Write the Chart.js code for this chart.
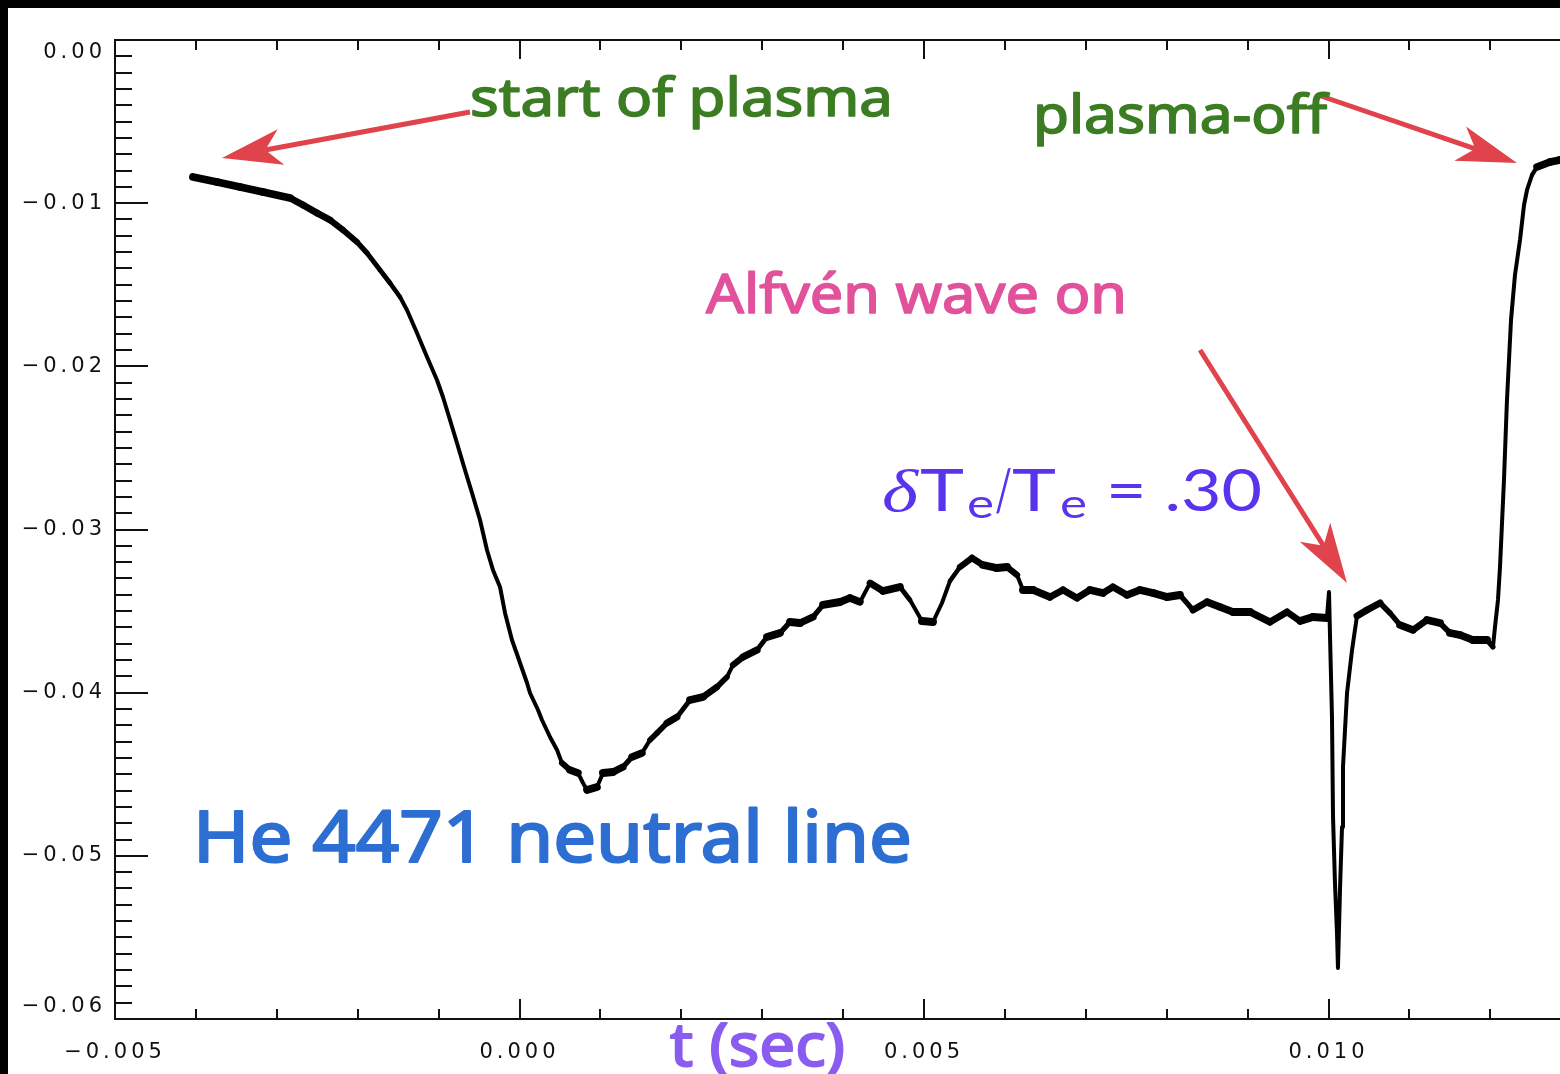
<!DOCTYPE html>
<html>
<head>
<meta charset="utf-8">
<script src="https://cdn.jsdelivr.net/npm/chart.js@4.4.0/dist/chart.umd.min.js"></script>
<style>
html, body { margin: 0; padding: 0; background: #000; overflow: hidden; width: 1560px; height: 1074px; }
#wrap { position: absolute; left: 8px; top: 8px; width: 1552px; height: 1066px; overflow: hidden; background: #fff; }
canvas { position: absolute; left: -8px; top: -8px; }
</style>
</head>
<body>
<div id="wrap"><canvas id="c" width="1800" height="1074"></canvas></div>
<script>
// He 4471 neutral line signal (t in s)
const times = [
  -0.004036, -0.003739, -0.003455, -0.003171, -0.002837, -0.002676, -0.002503, -0.002342, -0.002182, -0.002009,
  -0.001885, -0.001724, -0.001601, -0.001477, -0.001391, -0.001267, -0.001143, -0.001020, -0.000946, -0.000859,
  -0.000773, -0.000674, -0.000587, -0.000488, -0.000402, -0.000328, -0.000241, -0.000179, -0.000093, -0.000019,
  0.000093, 0.000130, 0.000229, 0.000278, 0.000377, 0.000464, 0.000525, 0.000624, 0.000723, 0.000785,
  0.000834, 0.000958, 0.001032, 0.001156, 0.001279, 0.001391, 0.001514, 0.001613, 0.001700, 0.001823,
  0.001947, 0.002108, 0.002268, 0.002441, 0.002565, 0.002639, 0.002763, 0.002936, 0.003059, 0.003220,
  0.003344, 0.003467, 0.003628, 0.003752, 0.003962, 0.004085, 0.004209, 0.004333, 0.004493, 0.004703,
  0.004827, 0.004975, 0.005111, 0.005222, 0.005321, 0.005445, 0.005593, 0.005729, 0.005902, 0.006026,
  0.006150, 0.006224, 0.006347, 0.006557, 0.006718, 0.006891, 0.007052, 0.007213, 0.007336, 0.007509,
  0.007670, 0.007831, 0.008004, 0.008164, 0.008325, 0.008498, 0.008659, 0.008820, 0.009030, 0.009277,
  0.009487, 0.009648, 0.009808, 0.009981, 0.010006, 0.010019, 0.010043, 0.010056, 0.010080, 0.010105,
  0.010117, 0.010142, 0.010167, 0.010179, 0.010229, 0.010291, 0.010352, 0.010476, 0.010637, 0.010760,
  0.010884, 0.011045, 0.011218, 0.011378, 0.011502, 0.011626, 0.011786, 0.011959, 0.012033, 0.012058,
  0.012095, 0.012120, 0.012169, 0.012206, 0.012256, 0.012305, 0.012367, 0.012417, 0.012454, 0.012515,
  0.012577, 0.012738, 0.012862, 0.013109
];
const signal = [
  -0.008396, -0.008703, -0.009009, -0.009315, -0.009683, -0.010112, -0.010602, -0.011031, -0.011644, -0.012380,
  -0.013054, -0.014096, -0.014892, -0.015751, -0.016547, -0.017957, -0.019428, -0.020837, -0.021879, -0.023289,
  -0.024698, -0.026353, -0.027763, -0.029417, -0.031256, -0.032482, -0.033523, -0.035117, -0.036771, -0.037813,
  -0.039407, -0.040020, -0.041062, -0.041674, -0.042716, -0.043513, -0.044310, -0.044739, -0.044922, -0.045535,
  -0.045964, -0.045781, -0.044922, -0.044861, -0.044555, -0.043942, -0.043697, -0.042900, -0.042471, -0.041858,
  -0.041490, -0.040449, -0.040265, -0.039652, -0.039039, -0.038303, -0.037813, -0.037384, -0.036587, -0.036342,
  -0.035668, -0.035730, -0.035362, -0.034626, -0.034443, -0.034198, -0.034443, -0.033278, -0.033768, -0.033523,
  -0.034320, -0.035607, -0.035668, -0.034504, -0.033156, -0.032298, -0.031746, -0.032175, -0.032359, -0.032298,
  -0.032788, -0.033707, -0.033707, -0.034136, -0.033707, -0.034198, -0.033707, -0.033891, -0.033523, -0.034014,
  -0.033707, -0.033891, -0.034136, -0.034014, -0.034933, -0.034443, -0.034749, -0.035055, -0.035055, -0.035668,
  -0.035055, -0.035607, -0.035362, -0.035423, -0.033830, -0.036587, -0.041490, -0.047619, -0.051664, -0.054728,
  -0.056873, -0.052093, -0.048232, -0.044555, -0.040020, -0.037384, -0.035301, -0.034933, -0.034504, -0.035117,
  -0.035852, -0.036159, -0.035546, -0.035730, -0.036342, -0.036465, -0.036771, -0.036771, -0.037200, -0.035975,
  -0.034320, -0.032298, -0.026966, -0.022063, -0.017160, -0.014402, -0.012257, -0.010112, -0.009193, -0.008274,
  -0.007783, -0.007477, -0.007354, -0.007293
];

const xMajor = [-0.005, 0.000, 0.005, 0.010, 0.015];
const xLabels = ['\u22120.005', '0.000', '0.005', '0.010', '0.015'];
const xMinorPerMajor = 5;
const yMajor = [0.00, -0.01, -0.02, -0.03, -0.04, -0.05, -0.06];
const yLabels = ['0.00', '\u22120.01', '\u22120.02', '\u22120.03', '\u22120.04', '\u22120.05', '\u22120.06'];
const yMinorPerMajor = 10;

function buildTicks(major, labels, nMinor) {
  const out = [];
  for (let i = 0; i < major.length; i++) {
    out.push({ value: major[i], major: true, lab: labels[i] });
    if (i < major.length - 1) {
      const step = (major[i + 1] - major[i]) / nMinor;
      for (let k = 1; k < nMinor; k++) {
        out.push({ value: major[i] + step * k, major: false, lab: '' });
      }
    }
  }
  return out.sort((a, b) => a.value - b.value);
}

const tickFont = { family: 'DejaVu Sans', size: 21 };

// ticks point inwards, long on majors (IDL style)
const frameTicks = {
  id: 'frameTicks',
  beforeDraw(chart) {
    chart.ctx.letterSpacing = '4px';
  },
  afterDatasetsDraw(chart) {
    const { ctx, chartArea: a, scales: { x, y } } = chart;
    ctx.save();
    ctx.strokeStyle = '#111';
    ctx.lineWidth = 2;
    ctx.beginPath();
    ctx.moveTo(a.left, a.top); ctx.lineTo(a.right, a.top);
    ctx.moveTo(a.left, a.bottom); ctx.lineTo(a.right, a.bottom);
    ctx.moveTo(a.left, a.top - 1); ctx.lineTo(a.left, a.bottom + 1);
    ctx.moveTo(a.right, a.top - 1); ctx.lineTo(a.right, a.bottom + 1);
    x.ticks.forEach(t => {
      const px = Math.round(x.getPixelForValue(t.value));
      ctx.moveTo(px, a.bottom); ctx.lineTo(px, a.bottom - (t.major ? 20 : 10));
      ctx.moveTo(px, a.top); ctx.lineTo(px, a.top + (t.major ? 19 : 10));
    });
    y.ticks.forEach(t => {
      const py = Math.round(y.getPixelForValue(t.value));
      ctx.moveTo(a.left, py); ctx.lineTo(a.left + (t.major ? 33 : 17), py);
      ctx.moveTo(a.right, py); ctx.lineTo(a.right - (t.major ? 33 : 17), py);
    });
    ctx.stroke();
    ctx.restore();
  }
};

function fitText(ctx, str, x, base, w, size, family, color, style, thick) {
  ctx.save();
  ctx.letterSpacing = '0px';
  ctx.font = (style || 'normal') + ' ' + size + 'px ' + family;
  ctx.fillStyle = color;
  ctx.strokeStyle = color;
  ctx.lineJoin = 'round';
  ctx.textBaseline = 'alphabetic';
  ctx.textAlign = 'left';
  const m = ctx.measureText(str).width;
  ctx.translate(x, base);
  ctx.scale(w / m, 1);
  ctx.fillText(str, 0, 0);
  if (thick) {
    ctx.lineWidth = thick;
    ctx.strokeText(str, 0, 0);
  }
  ctx.restore();
}

function arrow(ctx, x1, y1, x2, y2) {
  const len = Math.hypot(x2 - x1, y2 - y1);
  const ux = (x2 - x1) / len, uy = (y2 - y1) / len;
  const vx = -uy, vy = ux;
  const L = 60, W = 18, n = 16;
  ctx.save();
  ctx.strokeStyle = '#e0434b';
  ctx.fillStyle = '#e0434b';
  ctx.lineWidth = 5;
  ctx.beginPath();
  ctx.moveTo(x1, y1);
  ctx.lineTo(x2 - ux * (L - n), y2 - uy * (L - n));
  ctx.stroke();
  ctx.beginPath();
  ctx.moveTo(x2, y2);
  ctx.lineTo(x2 - ux * L + vx * W, y2 - uy * L + vy * W);
  ctx.lineTo(x2 - ux * (L - n), y2 - uy * (L - n));
  ctx.lineTo(x2 - ux * L - vx * W, y2 - uy * L - vy * W);
  ctx.closePath();
  ctx.fill();
  ctx.restore();
}

const notes = {
  id: 'notes',
  afterDraw(chart) {
    const ctx = chart.ctx;
    const hand = '"Noto Sans", sans-serif';
    arrow(ctx, 470, 112, 222, 158);
    arrow(ctx, 1318, 95, 1517, 163);
    arrow(ctx, 1200, 350, 1347, 583);
    fitText(ctx, 'start of plasma', 470, 116, 423, 53, hand, '#3c7d23', 'normal', 1.6);
    fitText(ctx, 'plasma-off', 1033, 133, 294, 53, hand, '#3c7d23', 'normal', 1.6);
    fitText(ctx, 'Alfv\u00e9n wave on', 706, 313, 421, 55, hand, '#e2519b', 'normal', 1.6);
    fitText(ctx, 'He 4471 neutral line', 193, 862, 719, 71, hand, '#2d6ed2', 'normal', 2.2);
    fitText(ctx, 't (sec)', 670, 1066, 175, 60, hand, '#8a5cf0', 'normal', 2);
    // dTe/Te = .30
    const purple = '#5a34ec';
    fitText(ctx, '\u03b4', 882, 511, 36, 60, '"Liberation Serif", serif', purple, 'italic');
    fitText(ctx, 'T', 920, 511, 44, 58, 'Lato, sans-serif', purple);
    fitText(ctx, 'e', 967, 518, 27, 40, 'Lato, sans-serif', purple);
    fitText(ctx, '/', 995, 511, 17, 58, 'Lato, sans-serif', purple);
    fitText(ctx, 'T', 1012, 511, 44, 58, 'Lato, sans-serif', purple);
    fitText(ctx, 'e', 1060, 518, 27, 40, 'Lato, sans-serif', purple);
    fitText(ctx, '= .30', 1106, 511, 156, 58, 'Lato, sans-serif', purple);
  }
};

// noisy trace: thick band where flat, thinner where steep
function segWidth(c) {
  const dx = c.p1.x - c.p0.x, dy = c.p1.y - c.p0.y;
  const s = dx === 0 ? 99 : dy / dx;
  return Math.max(4, 8 / Math.sqrt(1 + s * s));
}

new Chart(document.getElementById('c'), {
  type: 'line',
  data: {
    datasets: [{
      data: times.map((t, i) => ({ x: t, y: signal[i] })),
      borderColor: '#000',
      borderWidth: 5,
      pointRadius: 0,
      tension: 0,
      fill: false,
      borderJoinStyle: 'round',
      borderCapStyle: 'round',
      segment: { borderWidth: segWidth }
    }]
  },
  options: {
    responsive: false,
    animation: false,
    events: [],
    layout: { padding: { left: 0, top: 40, right: 67, bottom: 0 } },
    plugins: { legend: { display: false }, tooltip: { enabled: false } },
    scales: {
      x: {
        type: 'linear',
        min: -0.005,
        max: 0.015,
        afterBuildTicks: s => { s.ticks = buildTicks(xMajor, xLabels, xMinorPerMajor); },
        afterFit: s => { s.height = 55; },
        grid: { display: false, drawTicks: false },
        border: { display: false },
        ticks: {
          autoSkip: false,
          maxRotation: 0,
          padding: 21,
          color: '#111',
          font: tickFont,
          callback: (v, i, ticks) => ticks[i].lab
        }
      },
      y: {
        type: 'linear',
        min: -0.06,
        max: 0,
        afterBuildTicks: s => { s.ticks = buildTicks(yMajor, yLabels, yMinorPerMajor); },
        afterFit: s => { s.width = 115; },
        grid: { display: false, drawTicks: false },
        border: { display: false },
        ticks: {
          autoSkip: false,
          padding: 9,
          color: '#111',
          font: tickFont,
          callback: (v, i, ticks) => {
            const lab = ticks[i].lab;
            if (i === 0 && lab) return [lab, ''];
            if (i === ticks.length - 1 && lab) return ['', lab];
            return lab;
          }
        }
      }
    }
  },
  plugins: [frameTicks, notes]
});
</script>
</body>
</html>
